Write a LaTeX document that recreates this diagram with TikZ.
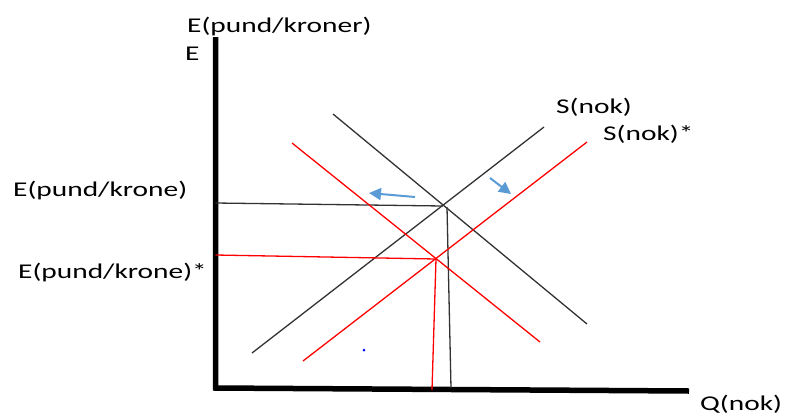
\documentclass[tikz,border=0pt]{standalone}
\usepackage{fontspec}
\setmainfont{Carlito}[FakeStretch=1.4]
\usetikzlibrary{arrows.meta}

\definecolor{shiftred}{RGB}{255,0,0}
\definecolor{shiftblue}{RGB}{91,155,213}
\definecolor{curvegray}{RGB}{50,50,50}

\begin{document}
\begin{tikzpicture}[x=1pt,y=-1pt,
  axis/.style={line width=5.5pt, line join=miter},
  curve/.style={line width=1.3pt, curvegray},
  redcurve/.style={line width=1.3pt, shiftred},
  shiftarrow/.style={line width=2pt, shiftblue, -{Triangle[width=12pt,length=12pt]}},
  lbl/.style={anchor=base west, inner sep=0pt, font=\fontsize{21}{24}\selectfont}]
  \useasboundingbox (0,0) rectangle (785,416);

  % Axes
  \coordinate (ytop) at (215.5,37);
  \coordinate (origin) at (215.5,388);
  \coordinate (xend) at (689,391);
  \draw[axis] (ytop) -- (origin) -- (xend);

  % Curve end points
  \coordinate (d0a) at (333,114);
  \coordinate (d0b) at (587,324);
  \coordinate (s0a) at (252,353);
  \coordinate (s0b) at (544,127);
  \coordinate (d1a) at (292,143);
  \coordinate (d1b) at (540,342);
  \coordinate (s1a) at (303,361);
  \coordinate (s1b) at (587,142);

  % Equilibria
  \coordinate (eq0) at (443,206);
  \coordinate (eq1) at (436,259);
  \coordinate (e0y) at (215.5,203);
  \coordinate (e1y) at (215.5,255);
  \coordinate (q0top) at (447,207);
  \coordinate (q0) at (451,388);
  \coordinate (q1) at (432,390);

  % Black curves
  \draw[curve] (d0a) -- (d0b);
  \draw[curve] (s0a) -- (s0b);
  \draw[curve] (e0y) -- (eq0);
  \draw[curve] (q0top) -- (q0);

  % Red curves
  \draw[redcurve] (d1a) -- (d1b);
  \draw[redcurve] (s1a) -- (s1b);
  \draw[redcurve] (e1y) -- (eq1);
  \draw[redcurve] (eq1) -- (q1);

  % Shift arrows
  \coordinate (la) at (415,197);
  \coordinate (lb) at (369,193);
  \coordinate (ra) at (490,178);
  \coordinate (rb) at (511,194);
  \draw[shiftarrow] (la) -- (lb);
  \draw[shiftarrow] (ra) -- (rb);

  % Stray dot
  \fill[blue] (364,350) circle (1.5pt);

  % Labels
  \node[lbl] (ylabel) at (187,32) {E(pund/kroner)};
  \node[lbl] (elabel) at (185,60) {E};
  \node[lbl] (e0label) at (13,196) {E(pund/krone)};
  \node[lbl] (e1label) at (18,278) {E(pund/krone)*};
  \node[lbl] (s0label) at (556,113) {S(nok)};
  \node[lbl] (s1label) at (603,140) {S(nok)*};
  \node[lbl] (xlabel) at (700,410) {Q(nok)};
\end{tikzpicture}
\end{document}
